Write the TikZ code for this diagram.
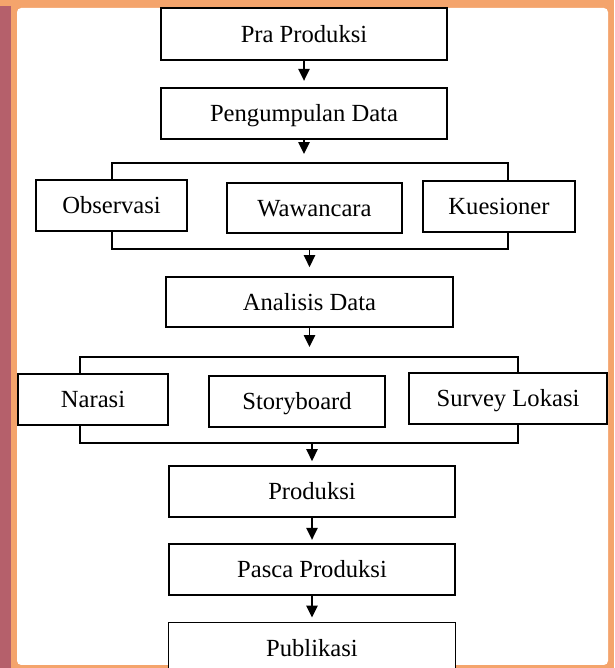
\documentclass[tikz,border=0pt]{standalone}
\usepackage{fontspec}
\setmainfont{Liberation Serif}
\usetikzlibrary{arrows.meta,positioning}
\definecolor{framebg}{HTML}{F4A46C}
\definecolor{stripbg}{HTML}{B5606B}
\tikzset{
	flow chart/.style={
		x=0.025cm, y=0.025cm,
		line width=1.2pt,
		font=\fontsize{17.5}{20}\selectfont},
	box/.style 2 args={draw, fill=white, inner sep=0pt,
		minimum width=#1*0.025cm, minimum height=#2*0.025cm,
		text height=11.6pt, text depth=0pt},
	ar/.style={-{Triangle[width=8pt,length=8.5pt]}, shorten >=#1*0.025cm},
	ar/.default=4
}
\begin{document}
\begin{tikzpicture}[flow chart]
	\fill[framebg] (0,0) rectangle (614,668);
	\fill[stripbg] (0,0) rectangle (11,662);
	\fill[white, rounded corners=3pt] (17,3) rectangle (608,660);
	\useasboundingbox (0,0) rectangle (614,668);
	\node[box={286}{52}] (pra) at (304,634) {Pra Produksi};
	\node[box={286}{51}, below=0.65cm of pra] (kumpul) {Pengumpulan Data};
	\node[box={151}{51}] (obs) at (111.5,462.5) {Observasi};
	\node[box={175}{50}] (waw) at (314.5,460) {Wawancara};
	\node[box={152}{51}] (kues) at (499,461.5) {Kuesioner};
	\node[box={287}{50}] (analisis) at (309.5,366) {Analisis Data};
	\node[box={150}{51}] (narasi) at (93,268.5) {Narasi};
	\node[box={176}{51}] (story) at (297,266.5) {Storyboard};
	\node[box={198}{51}] (survey) at (508,269.5) {Survey Lokasi};
	\node[box={286}{51}] (prod) at (312,176.5) {Produksi};
	\node[box={286}{51}, below=0.625cm of prod] (pasca) {Pasca Produksi};
	\node[box={287}{51}, below=0.65cm of pasca] (publik) {Publikasi};
	\coordinate (g1a) at (112,505);
	\coordinate (g1b) at (508,505);
	\coordinate (g1c) at (112,419);
	\coordinate (g1d) at (508,419);
	\coordinate (g2a) at (80,311);
	\coordinate (g2b) at (518,311);
	\coordinate (g2c) at (80,225);
	\coordinate (g2d) at (518,225);
	\draw (obs.north -| g1a) -- (g1a) -- (g1b) -- (kues.north -| g1b);
	\draw (obs.south -| g1c) -- (g1c) -- (g1d) -- (kues.south -| g1d);
	\draw (narasi.north -| g2a) -- (g2a) -- (g2b) -- (survey.north -| g2b);
	\draw (narasi.south -| g2c) -- (g2c) -- (g2d) -- (survey.south -| g2d);
	\draw[ar=6] (pra) -- (kumpul);
	\draw[ar=9] (kumpul) -- (kumpul |- g1a);
	\draw[ar=9] (analisis.north |- g1c) -- (analisis);
	\draw[ar=10] (analisis) -- (analisis |- g2a);
	\draw[ar=4] (prod.north |- g2c) -- (prod);
	\draw[ar=3] (prod) -- (pasca);
	\draw[ar=4] (pasca) -- (publik);
\end{tikzpicture}
\end{document}
